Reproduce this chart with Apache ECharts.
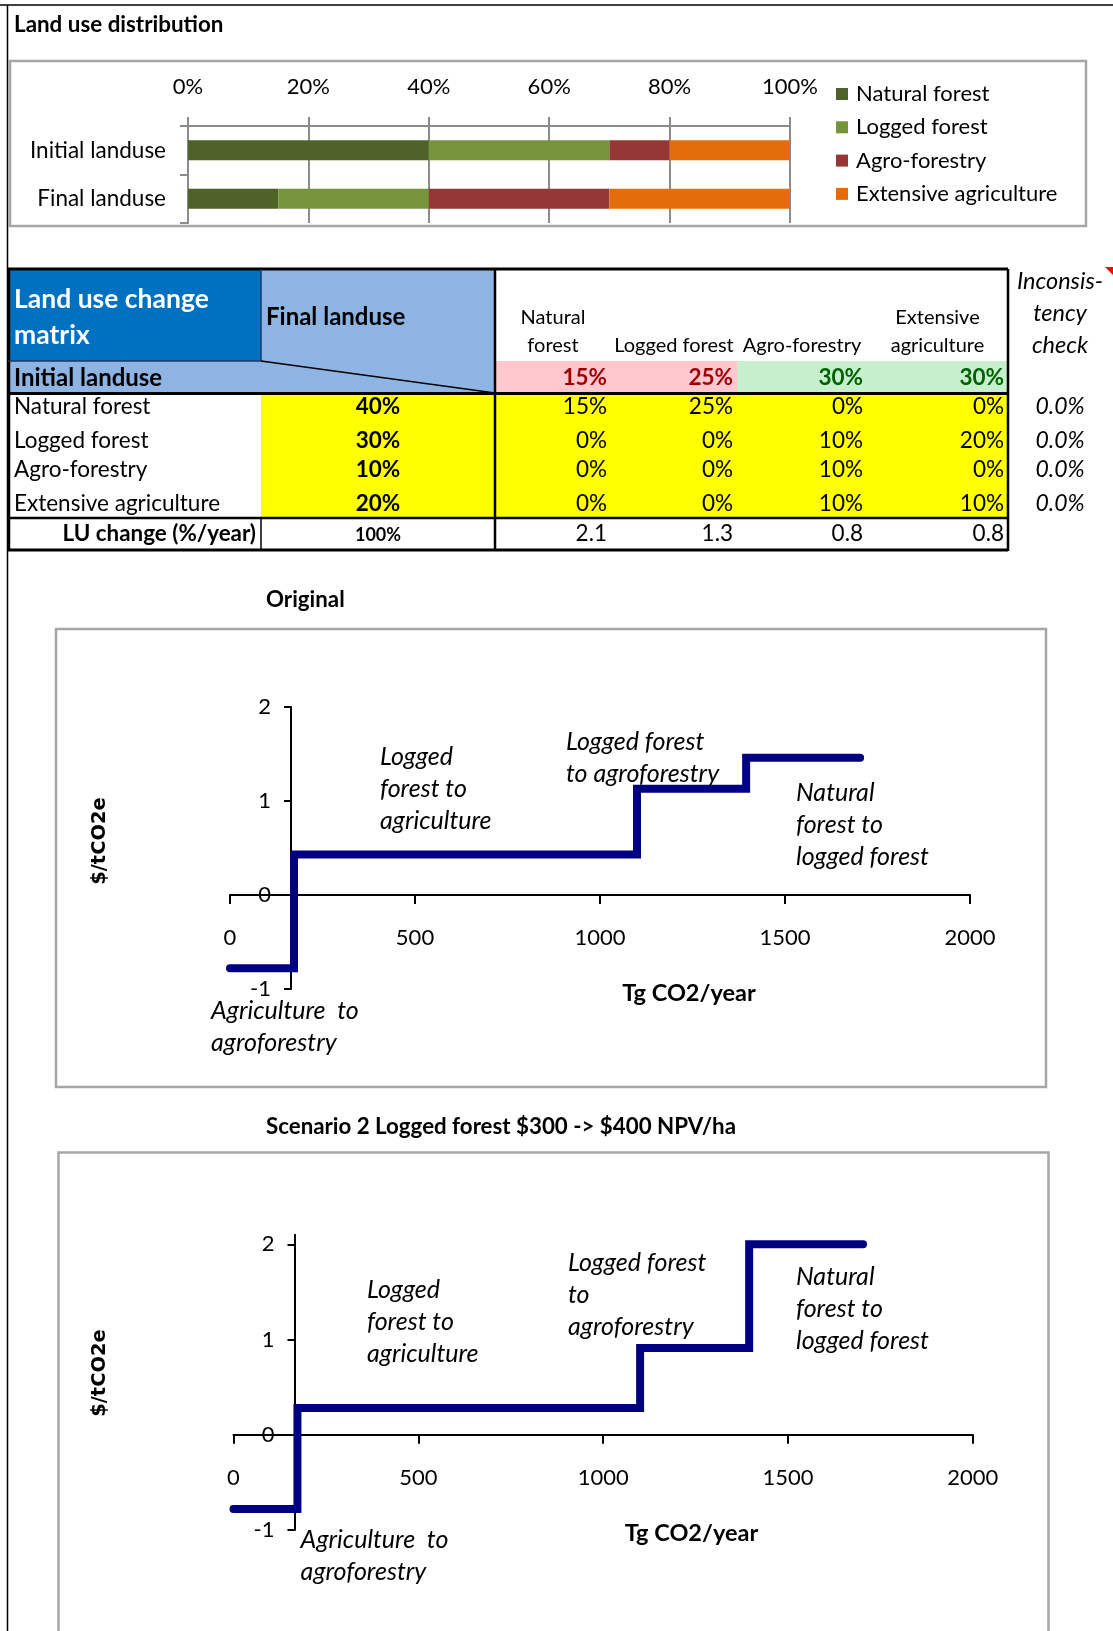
<!DOCTYPE html>
<html><head><meta charset="utf-8">
<script src="https://cdn.jsdelivr.net/npm/echarts@6/dist/echarts.min.js"></script>
<style>html,body{margin:0;padding:0;background:#fff}#c{width:1113px;height:1631px}</style>
</head><body><div id="c"></div>
<script>
// ---------------- DATA ----------------
const barCategories = ['Initial landuse', 'Final landuse'];
const landUseTypes = ['Natural forest', 'Logged forest', 'Agro-forestry', 'Extensive agriculture'];
const initialShares = [40, 30, 10, 20];
const finalShares = [15, 25, 30, 30];
const changeMatrix = [
  [15, 25, 0, 0],
  [0, 0, 10, 20],
  [0, 0, 10, 0],
  [0, 0, 10, 10]
];
const luChangeRate = [2.1, 1.3, 0.8, 0.8];
const inconsistencyCheck = [0.0, 0.0, 0.0, 0.0];
const matrixHeaders = [['Natural', 'forest'], ['Logged forest'], ['Agro-forestry'], ['Extensive', 'agriculture']];
const pctTickStep = 20;
const emissionTicks = [0, 500, 1000, 1500, 2000];
const costTicks = [-1, 0, 1, 2];
const originalEmission = [0, 173, 1100, 1395, 1703];
const originalCost = [-0.78, 0.43, 1.13, 1.46];
const scenario2Emission = [0, 173, 1100, 1395, 1703];
const scenario2Cost = [-0.78, 0.28, 0.91, 2.0];
const notes1 = [['Logged', 'forest to', 'agriculture'], ['Logged forest', 'to agroforestry'], ['Natural', 'forest to', 'logged forest'], ['Agriculture  to', 'agroforestry']];
const notes2 = [['Logged', 'forest to', 'agriculture'], ['Logged forest', 'to', 'agroforestry'], ['Natural', 'forest to', 'logged forest'], ['Agriculture  to', 'agroforestry']];
const chartTitles = ['Original', 'Scenario 2 Logged forest $300 -> $400 NPV/ha'];
const yAxisCrossAt = 165;

// ---------------- STYLE ----------------
const F = "Lato, 'Noto Sans', sans-serif";
const luColors = ['#4f6228', '#77933c', '#953735', '#e46c0a'];
const navy = '#000080';

function txt(x, y, s, size, o) {
  o = o || {};
  const font = (o.italic ? 'italic ' : '') + (o.bold ? 'bold ' : '') + size + 'px ' + (o.family || F);
  return {
    type: 'text', x: x, y: y, rotation: o.rot || 0, z: 100, silent: true,
    style: {
      text: String(s), font: font, fill: o.color || '#000',
      align: o.align || 'left', verticalAlign: 'middle',
      textAlign: o.align || 'left', textVerticalAlign: 'middle'
    }
  };
}
function rect(x, y, w, h, fill, stroke, lw) {
  return { type: 'rect', z: 1, silent: true, shape: { x: x, y: y, width: w, height: h },
    style: { fill: fill || 'none', stroke: stroke || null, lineWidth: lw || 0 } };
}
function line(x1, y1, x2, y2, color, lw) {
  return { type: 'line', z: 50, silent: true, shape: { x1: x1, y1: y1, x2: x2, y2: y2 },
    style: { stroke: color || '#000', lineWidth: lw || 1 } };
}
function stepPoints(xs, ys) {
  const pts = [];
  for (let i = 0; i < ys.length; i++) { pts.push([xs[i], ys[i]]); pts.push([xs[i + 1], ys[i]]); }
  return pts;
}
const pct = v => v + '%';

const G = [];
// sheet borders
G.push(line(0, 5, 1113, 5, '#000', 1.5));
G.push(line(7.5, 5, 7.5, 1631, '#000', 1.5));
// section 1
G.push(txt(14, 25, 'Land use distribution', 22.4, { bold: true }));
G.push(rect(10, 61, 1076, 165, 'none', '#a6a6a6', 2.5));

// ---------------- TABLE ----------------
const colEdges = [495, 611, 737, 867, 1008];
const rowY = [407, 441, 470, 504];
const BODY = 22.5;
G.push(rect(8, 269, 253, 92, '#0070c0'));
G.push(rect(261, 269, 234, 124, '#8db4e2'));
G.push(rect(8, 361, 253, 32, '#8db4e2'));
for (let j = 0; j < 4; j++) {
  const good = finalShares[j] >= initialShares[j];
  G.push(rect(colEdges[j], 361, colEdges[j + 1] - colEdges[j], 32, good ? '#c6efce' : '#ffc7ce'));
}
G.push(rect(261, 393, 747, 125, '#ffff00'));
G.push(line(8, 269, 1008, 269, '#000', 3));
G.push(line(495, 269, 495, 551, '#000', 2.5));
G.push(line(1008, 269, 1008, 551, '#000', 2.5));
G.push(line(8, 393.5, 1008, 393.5, '#000', 3));
G.push(line(8, 518, 1008, 518, '#000', 2.5));
G.push(line(8, 550, 1008, 550, '#000', 3));
G.push(line(9, 269, 9, 551, '#000', 2.5));
G.push(line(261, 518, 261, 550, '#000', 1.5));
G.push(line(8, 361, 261, 361, '#1f3864', 1.5));
G.push(line(261, 269, 261, 361, '#1f3864', 1.5));
G.push(line(261, 361, 495, 393, '#000', 1.5));
G.push(txt(14, 299, 'Land use change', 26.5, { bold: true, color: '#fff' }));
G.push(txt(14, 335, 'matrix', 26.5, { bold: true, color: '#fff' }));
G.push(txt(266, 317, 'Final landuse', 24, { bold: true }));
G.push(txt(14, 378, 'Initial landuse', 24, { bold: true }));
matrixHeaders.forEach((lines, j) => {
  const cx = (colEdges[j] + colEdges[j + 1]) / 2;
  lines.forEach((s, k) => G.push(txt(cx, 346 - (lines.length - 1 - k) * 28, s, 20, { align: 'center' })));
});
finalShares.forEach((v, j) => {
  const good = v >= initialShares[j];
  G.push(txt(colEdges[j + 1] - 4, 378, pct(v), 22.5, { bold: true, align: 'right', color: good ? '#006100' : '#9c0006' }));
});
landUseTypes.forEach((name, i) => {
  G.push(txt(14, rowY[i], name, BODY));
  G.push(txt(378, rowY[i], pct(initialShares[i]), 22.5, { bold: true, align: 'center' }));
  changeMatrix[i].forEach((v, j) => G.push(txt(colEdges[j + 1] - 4, rowY[i], pct(v), BODY, { align: 'right' })));
  G.push(txt(1060, rowY[i], inconsistencyCheck[i].toFixed(1) + '%', 23, { italic: true, align: 'center' }));
});
G.push(txt(256, 534, 'LU change (%/year)', 22.4, { bold: true, align: 'right' }));
G.push(txt(378, 535, pct(initialShares.reduce((a, b) => a + b, 0)), 18, { bold: true, align: 'center' }));
luChangeRate.forEach((v, j) => G.push(txt(colEdges[j + 1] - 4, 534, v.toFixed(1), BODY, { align: 'right' })));
['Inconsis-', 'tency', 'check'].forEach((s, k) => G.push(txt(1060, 281 + k * 32, s, 23.5, { italic: true, align: 'center' })));
G.push({ type: 'polygon', z: 60, silent: true, shape: { points: [[1105, 267], [1113, 267], [1113, 275]] }, style: { fill: '#ff0000' } });

// ---------------- CHART FRAMES / TEXT ----------------
G.push(txt(266, 600, chartTitles[0], 22.3, { bold: true }));
G.push(rect(56, 629, 990, 458, 'none', '#a6a6a6', 2.5));
G.push(txt(266, 1126.5, chartTitles[1], 22.3, { bold: true }));
G.push(rect(58.5, 1152.5, 990, 490, 'none', '#a6a6a6', 2.5));
const DJ = "'DejaVu Sans', sans-serif";
G.push(txt(100, 841, '$/tCO2e', 19.5, { bold: true, align: 'center', rot: Math.PI / 2, family: DJ }));
G.push(txt(100, 1373, '$/tCO2e', 19.5, { bold: true, align: 'center', rot: Math.PI / 2, family: DJ }));
G.push(txt(689, 993, 'Tg CO2/year', 23.5, { bold: true, align: 'center' }));
G.push(txt(691.5, 1533, 'Tg CO2/year', 23.5, { bold: true, align: 'center' }));
const notePos1 = [[380, 757], [566, 742], [796, 793], [211, 1011]];
const notePos2 = [[367, 1290], [568, 1263], [796, 1277], [300.6, 1540]];
function addNotes(notes, pos) {
  notes.forEach((lines, i) => lines.forEach((s, k) => G.push(txt(pos[i][0], pos[i][1] + k * 32, s, 25, { italic: true }))));
}
addNotes(notes1, notePos1);
addNotes(notes2, notePos2);

// ---------------- ECHARTS ----------------
const chart = echarts.init(document.getElementById('c'), null, { renderer: 'canvas' });
const grids = [
  { left: 188, top: 126, width: 602, height: 97 },
  { left: 230, top: 707, width: 740, height: 282 },
  { left: 233.5, top: 1234.8, width: 739.3, height: 295.2 }
];
const yMax = [null, costTicks[costTicks.length - 1], 2.1];
const labelFont = { color: '#000', fontFamily: F, fontSize: 22 };
function emissionXAxis(gi) {
  // place the horizontal axis where cost = 0
  const off = -((0 - costTicks[0]) / (yMax[gi] - costTicks[0])) * grids[gi].height;
  return {
    type: 'value', gridIndex: gi, min: emissionTicks[0], max: emissionTicks[emissionTicks.length - 1],
    interval: emissionTicks[1] - emissionTicks[0], position: 'bottom', offset: off,
    axisLine: { show: true, onZero: false, lineStyle: { color: '#000', width: 2 } },
    axisTick: { show: true, length: 9, lineStyle: { color: '#000', width: 2 } },
    axisLabel: Object.assign({ margin: 32, formatter: v => String(v) }, labelFont),
    splitLine: { show: false }
  };
}
function costYAxis(gi) {
  const off = -(yAxisCrossAt / (emissionTicks[emissionTicks.length - 1] - emissionTicks[0])) * grids[gi].width;
  return {
    type: 'value', gridIndex: gi, min: costTicks[0], max: yMax[gi], interval: 1, offset: off,
    axisLine: { show: true, onZero: false, lineStyle: { color: '#000', width: 2 } },
    axisTick: { show: true, length: 7, lineStyle: { color: '#000', width: 2 }, customValues: costTicks },
    axisLabel: Object.assign({ margin: 20, customValues: costTicks, formatter: v => String(v) }, labelFont),
    splitLine: { show: false }
  };
}
const series = landUseTypes.map((name, i) => ({
  type: 'bar', name: name, stack: 'lu', xAxisIndex: 0, yAxisIndex: 0, barWidth: 20,
  itemStyle: { color: luColors[i] }, data: [initialShares[i], finalShares[i]]
}));
[[originalEmission, originalCost, 1], [scenario2Emission, scenario2Cost, 2]].forEach(([xs, ys, gi]) => {
  series.push({
    type: 'line', xAxisIndex: gi, yAxisIndex: gi, data: stepPoints(xs, ys), symbol: 'none', clip: true,
    lineStyle: { color: navy, width: 8, cap: 'round', join: 'miter' }, z: 5
  });
});
chart.setOption({
  animation: false,
  backgroundColor: '#fff',
  grid: grids,
  legend: {
    data: landUseTypes, orient: 'vertical', left: 836, top: 83, padding: 0, icon: 'rect',
    itemWidth: 12, itemHeight: 12, itemGap: 11.3, selectedMode: false,
    textStyle: { color: '#000', fontFamily: F, fontSize: 22, lineHeight: 21, padding: [0, 0, 0, 3] }
  },
  xAxis: [
    {
      type: 'value', gridIndex: 0, position: 'top', min: 0, max: 100, interval: pctTickStep,
      axisLine: { show: true, lineStyle: { color: '#8c8c8c', width: 2 } },
      axisTick: { show: true, length: 9, lineStyle: { color: '#8c8c8c', width: 2 } },
      axisLabel: Object.assign({ margin: 28, formatter: '{value}%' }, labelFont),
      splitLine: { show: true, lineStyle: { color: '#8c8c8c', width: 2 } }
    },
    emissionXAxis(1), emissionXAxis(2)
  ],
  yAxis: [
    {
      type: 'category', gridIndex: 0, inverse: true, data: barCategories,
      axisLine: { show: true, lineStyle: { color: '#8c8c8c', width: 2 } },
      axisTick: { show: true, length: 8, lineStyle: { color: '#8c8c8c', width: 2 } },
      axisLabel: Object.assign({ margin: 22 }, labelFont, { fontSize: 22.5 })
    },
    costYAxis(1),
    costYAxis(2)
  ],
  series: series,
  graphic: { elements: G }
});
</script></body></html>
